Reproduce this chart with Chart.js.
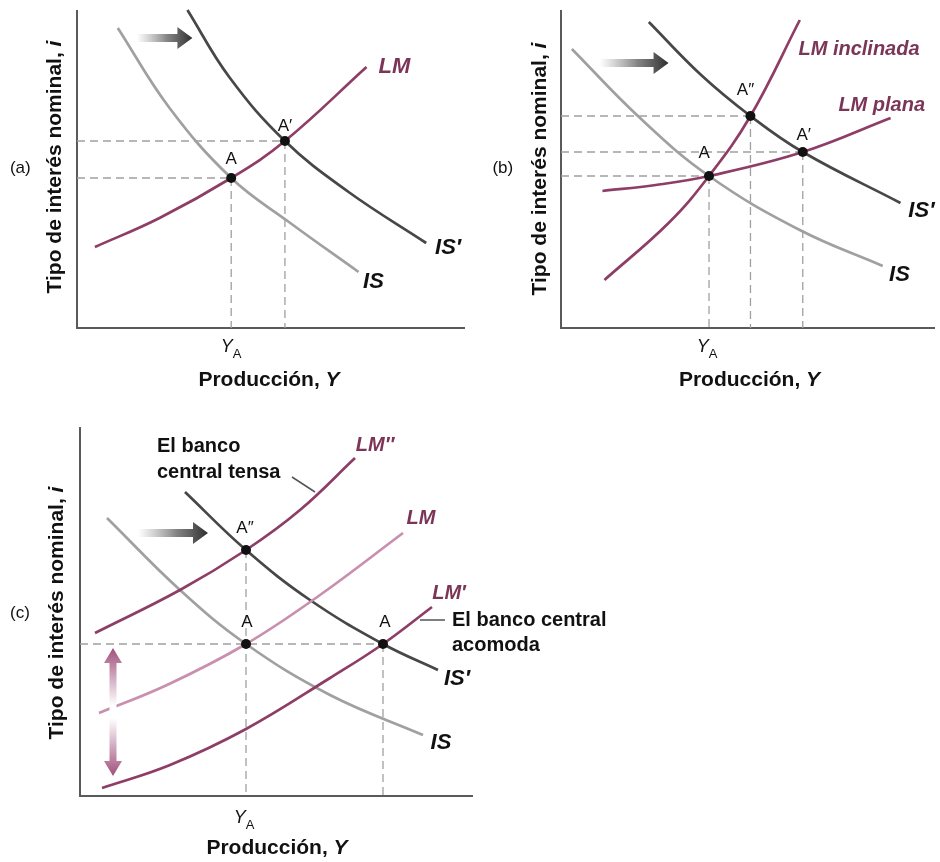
<!DOCTYPE html>
<html>
<head>
<meta charset="utf-8">
<script src="https://cdn.jsdelivr.net/npm/chart.js@4.4.1/dist/chart.umd.min.js"></script>
<style>
  body { margin: 0; background: #fff; width: 940px; height: 862px; position: relative; overflow: hidden; }
  canvas { position: absolute; }
</style>
</head>
<body>
<canvas id="pa" width="470" height="400" style="left:0;top:0"></canvas>
<canvas id="pb" width="470" height="400" style="left:470px;top:0"></canvas>
<canvas id="pc" width="660" height="462" style="left:0;top:400px"></canvas>
<script>
// (a) IS shifts right, LM fixed
const aIS  = [[4.1, 30.0], [9.3, 22.0], [15.5, 15.0], [21.3, 10.6], [28.3, 5.6]];
const aIS2 = [[11.1, 31.8], [15.3, 25.1], [20.9, 18.7], [27.3, 13.6], [35.1, 8.5]];
const aLM  = [[1.8, 8.1], [8.3, 11.0], [15.5, 15.0], [20.9, 18.7], [29.1, 26.1]];
const aEq  = [[15.5, 15.0], [20.9, 18.7]];

// (b) steep vs flat LM
const bIS   = [[1.1, 27.9], [7.9, 21.1], [15.0, 15.2], [24.2, 9.8], [32.6, 6.2]];
const bIS2  = [[8.9, 30.6], [14.2, 25.3], [19.2, 21.2], [24.5, 17.6], [34.4, 12.5]];
const bLMi  = [[4.4, 4.8], [10.9, 10.5], [15.0, 15.2], [19.2, 21.2], [24.2, 30.8]];
const bLMp  = [[4.2, 13.7], [9.6, 14.3], [15.0, 15.2], [24.5, 17.6], [33.4, 21.0]];
const bEq   = [[15.0, 15.2], [19.2, 21.2], [24.5, 17.6]];

// (c) central bank tightens / accommodates
const cIS  = [[2.7, 27.8], [10.0, 20.6], [16.6, 15.2], [25.0, 10.1], [34.3, 6.1]];
const cIS2 = [[10.5, 30.4], [16.6, 24.6], [23.0, 19.6], [30.3, 15.2], [35.8, 12.6]];
const cLM2 = [[1.5, 16.3], [10.0, 20.6], [16.6, 24.6], [22.0, 28.6], [27.5, 33.8]];
const cLM  = [[1.9, 8.3], [8.7, 11.1], [16.6, 15.2], [24.0, 20.1], [32.3, 26.3]];
const cLM1 = [[2.2, 0.8], [9.0, 3.1], [16.6, 6.7], [25.0, 11.8], [30.3, 15.2], [35.2, 18.9]];
const cEq  = [[16.6, 24.6], [16.6, 15.2], [30.3, 15.2]];

const FONT = '"Liberation Sans", Arial, Helvetica, sans-serif';
const PLUM = "#8e3e66", PLUM_TXT = "#7a3557", PINK = "#c98fae";
const GREY_IS = "#a0a0a0", DARK_IS = "#474747", AXIS = "#5a5a5a", DASH = "#a0a0a0";

const f = (style, px) => `${style} ${px}px ${FONT}`;
const pts = arr => arr.map(([x, y]) => ({ x, y }));

const curve = (arr, color, w = 2.7) => ({
  data: pts(arr), borderColor: color, borderWidth: w, pointRadius: 0,
  tension: 0.4, clip: false,
});
const seg = (p, q, color, dash, w) => ({
  data: pts([p, q]), borderColor: color, borderWidth: w, borderDash: dash,
  pointRadius: 0, tension: 0, clip: false,
});

// runs of text: [text, font, colour, dy]
function drawRuns(ctx, px, py, item) {
  ctx.save();
  ctx.translate(px, py);
  if (item.rot) ctx.rotate(item.rot);
  ctx.textBaseline = "middle";
  ctx.textAlign = "left";
  const widths = item.runs.map(r => { ctx.font = r[1]; return ctx.measureText(r[0]).width; });
  const total = widths.reduce((a, b) => a + b, 0);
  let x = item.align === "left" ? 0 : -total / 2;
  item.runs.forEach((r, i) => {
    ctx.font = r[1];
    ctx.fillStyle = r[2] || "#111";
    ctx.fillText(r[0], x, r[3] || 0);
    x += widths[i];
  });
  ctx.restore();
}

function shiftArrow(ctx, x1, y, x2) {
  const g = ctx.createLinearGradient(x1, 0, x2, 0);
  g.addColorStop(0, "rgba(120,120,120,0)");
  g.addColorStop(0.55, "rgba(90,90,90,0.75)");
  g.addColorStop(1, "#2e2e2e");
  ctx.fillStyle = g;
  ctx.beginPath();
  ctx.moveTo(x1, y - 4);
  ctx.lineTo(x2 - 15, y - 4);
  ctx.lineTo(x2 - 15, y - 11);
  ctx.lineTo(x2, y);
  ctx.lineTo(x2 - 15, y + 11);
  ctx.lineTo(x2 - 15, y + 4);
  ctx.lineTo(x1, y + 4);
  ctx.closePath();
  ctx.fill();
}

function doubleArrow(ctx, x, y1, y2) {
  const g = ctx.createLinearGradient(0, y1, 0, y2);
  g.addColorStop(0, "#a0507b");
  g.addColorStop(0.45, "rgba(255,255,255,1)");
  g.addColorStop(0.55, "rgba(255,255,255,1)");
  g.addColorStop(1, "#a0507b");
  ctx.fillStyle = g;
  ctx.beginPath();
  ctx.moveTo(x, y1);
  ctx.lineTo(x + 9, y1 + 15);
  ctx.lineTo(x + 3.5, y1 + 15);
  ctx.lineTo(x + 3.5, y2 - 15);
  ctx.lineTo(x + 9, y2 - 15);
  ctx.lineTo(x, y2);
  ctx.lineTo(x - 9, y2 - 15);
  ctx.lineTo(x - 3.5, y2 - 15);
  ctx.lineTo(x - 3.5, y1 + 15);
  ctx.lineTo(x - 9, y1 + 15);
  ctx.closePath();
  ctx.fill();
}

const decor = {
  id: "decor",
  afterDatasetsDraw(chart) {
    const o = chart.options.plugins.decor;
    const sx = chart.scales.x, sy = chart.scales.y, ctx = chart.ctx;
    const X = v => sx.getPixelForValue(v), Y = v => sy.getPixelForValue(v);
    (o.arrows || []).forEach(a => shiftArrow(ctx, X(a[0]), Y(a[1]), X(a[2])));
    (o.vArrows || []).forEach(a => doubleArrow(ctx, X(a[0]), Y(a[1]), Y(a[2])));
    (o.leaders || []).forEach(l => {
      ctx.save();
      ctx.strokeStyle = "#555";
      ctx.lineWidth = 1.5;
      ctx.beginPath();
      ctx.moveTo(X(l[0]), Y(l[1]));
      ctx.lineTo(X(l[2]), Y(l[3]));
      ctx.stroke();
      ctx.restore();
    });
    (o.labels || []).forEach(t => drawRuns(ctx, X(t.x), Y(t.y), t));
  },
};

const yTitle = (x, y) => ({
  x, y, rot: -Math.PI / 2,
  runs: [["Tipo de interés nominal, ", f("bold", 21)], ["i", f("bold italic", 21)]],
});
const xTitle = (x, y) => ({
  x, y, runs: [["Producción, ", f("bold", 21)], ["Y", f("bold italic", 21)]],
});
const yA = (x, y) => ({ x, y, runs: [["Y", f("italic", 18)], ["A", f("normal", 13), "#111", 7]] });
const txt = (x, y, s, font, color, align) => ({ x, y, runs: [[s, font, color]], align });

function makePanel(id, cfg) {
  const datasets = [];
  datasets.push({
    data: pts(cfg.eq), showLine: false, pointRadius: 5, pointBackgroundColor: "#111",
    pointBorderColor: "#111", pointBorderWidth: 0, clip: false,
  });
  cfg.curves.forEach(c => datasets.push(curve(c[0], c[1])));
  cfg.hGuides.forEach(i => datasets.push(seg([0, cfg.eq[i][1]], cfg.eq[i], DASH, [8, 5], 1.3)));
  cfg.vGuides.forEach(i => datasets.push(seg(cfg.eq[i], [cfg.eq[i][0], 0], DASH, [8, 5], 1.3)));
  datasets.push({
    data: pts([[0, cfg.ymax], [0, 0], [cfg.xmax, 0]]), borderColor: AXIS, borderWidth: 2,
    pointRadius: 0, tension: 0, clip: false,
  });

  return new Chart(document.getElementById(id), {
    type: "line",
    data: { datasets },
    options: {
      responsive: false,
      devicePixelRatio: 1,
      animation: false,
      events: [],
      layout: { padding: cfg.pad },
      scales: {
        x: { type: "linear", min: 0, max: cfg.xmax, display: false },
        y: { type: "linear", min: 0, max: cfg.ymax, display: false },
      },
      plugins: {
        legend: { display: false },
        tooltip: { enabled: false },
        decor: cfg.decor,
      },
    },
    plugins: [decor],
  });
}

makePanel("pa", {
  xmax: 39, ymax: 31.8,
  pad: { left: 77, top: 10, right: 3, bottom: 72 },
  eq: aEq,
  curves: [[aLM, PLUM], [aIS2, DARK_IS], [aIS, GREY_IS]],
  hGuides: [0, 1], vGuides: [0, 1],
  decor: {
    arrows: [[6.0, 29.0, 11.6]],
    labels: [
      txt(31.9, 26.1, "LM", f("bold italic", 22), PLUM_TXT),
      txt(37.3, 8.0, "IS′", f("bold italic", 22)),
      txt(29.8, 4.6, "IS", f("bold italic", 22)),
      txt(15.5, 16.9, "A", f("normal", 17)),
      txt(20.9, 20.2, "A′", f("normal", 17)),
      txt(-5.7, 16.0, "(a)", f("normal", 17)),
      yA(15.5, -1.9),
      xTitle(19.3, -5.2),
      yTitle(-2.2, 16.1),
    ],
  },
});

makePanel("pb", {
  xmax: 37.9, ymax: 31.8,
  pad: { left: 91, top: 10, right: 0, bottom: 72 },
  eq: bEq,
  curves: [[bLMi, PLUM], [bLMp, PLUM], [bIS2, DARK_IS], [bIS, GREY_IS]],
  hGuides: [0, 1, 2], vGuides: [0, 1, 2],
  decor: {
    arrows: [[3.9, 26.5, 10.9]],
    labels: [
      txt(30.2, 27.9, "LM inclinada", f("bold italic", 20), PLUM_TXT),
      txt(32.5, 22.3, "LM plana", f("bold italic", 20), PLUM_TXT),
      txt(35.2, 11.7, "IS′", f("bold italic", 22), "#111", "left"),
      txt(34.3, 5.3, "IS", f("bold italic", 22)),
      txt(14.5, 17.5, "A", f("normal", 17)),
      txt(18.7, 23.8, "A″", f("normal", 17)),
      txt(24.6, 19.3, "A′", f("normal", 17)),
      txt(-5.9, 16.0, "(b)", f("normal", 17)),
      yA(14.8, -1.9),
      xTitle(19.1, -5.2),
      yTitle(-2.1, 15.9),
    ],
  },
});

makePanel("pc", {
  xmax: 39.3, ymax: 36.9,
  pad: { left: 80, top: 27, right: 187, bottom: 66 },
  eq: cEq,
  curves: [[cLM2, PLUM], [cLM, PINK], [cLM1, PLUM], [cIS2, DARK_IS], [cIS, GREY_IS]],
  hGuides: [2], vGuides: [0, 2],
  decor: {
    arrows: [[5.8, 26.3, 12.8]],
    vArrows: [[3.3, 14.8, 2.0]],
    leaders: [[21.2, 31.9, 23.5, 30.4], [34.0, 17.6, 36.5, 17.6]],
    labels: [
      txt(7.7, 35.0, "El banco", f("bold", 20), "#111", "left"),
      txt(7.7, 32.4, "central tensa", f("bold", 20), "#111", "left"),
      txt(29.5, 35.1, "LM″", f("bold italic", 20), PLUM_TXT),
      txt(34.1, 27.8, "LM", f("bold italic", 20), PLUM_TXT),
      txt(36.9, 20.3, "LM′", f("bold italic", 20), PLUM_TXT),
      txt(37.2, 17.6, "El banco central", f("bold", 20), "#111", "left"),
      txt(37.2, 15.1, "acomoda", f("bold", 20), "#111", "left"),
      txt(37.7, 11.7, "IS′", f("bold italic", 22)),
      txt(36.1, 5.3, "IS", f("bold italic", 22)),
      txt(16.7, 17.4, "A", f("normal", 17)),
      txt(30.5, 17.4, "A", f("normal", 17)),
      txt(16.5, 26.8, "A″", f("normal", 17)),
      txt(-6.0, 18.3, "(c)", f("normal", 17)),
      yA(16.4, -2.2),
      xTitle(19.7, -5.2),
      yTitle(-2.3, 18.3),
    ],
  },
});
</script>
</body>
</html>
